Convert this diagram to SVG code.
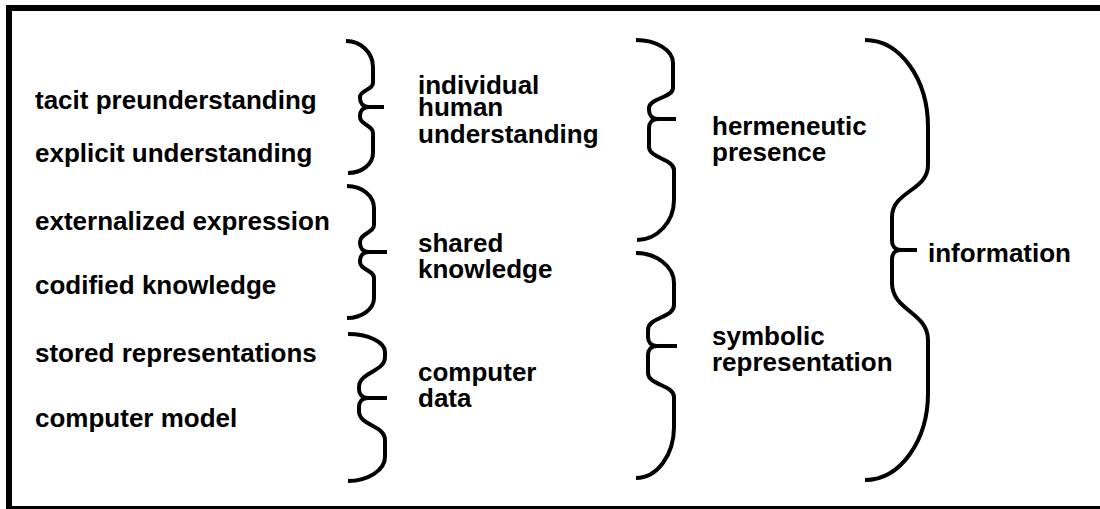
<svg xmlns="http://www.w3.org/2000/svg" width="1100" height="509" viewBox="0 0 1100 509">
<style>
.t{font-family:"Liberation Sans",Arial,sans-serif;font-weight:bold;font-size:26px;fill:#000}
.b{fill:none;stroke:#000;stroke-width:4;stroke-linejoin:round;stroke-linecap:butt}
</style>
<rect width="1100" height="509" fill="#fff"/>
<rect id="frame" x="9" y="8" width="1100" height="501" fill="none" stroke="#000" stroke-width="6"/>
<g id="connectors">
<path class="b" d="M384,107 L369,107 C363,107 360,103 360,98 L360,97 C360,90 373,90 373,83 L373,67 C373,53 361,41 346,41 M384,107 L369,107 C363,107 360,111 360,116 L360,117 C360,125 373,125 373,133 L373,153 C373,164 362,173 348,173"/>
<path class="b" d="M387,252 L369,252 C363,252 360,248 360,243 L360,242 C360,233 374,233 374,225 L374,208 C374,196 362,186 347,186 M387,252 L369,252 C363,252 360,256 360,261 L360,262 C360,270 374,270 374,278 L374,298 C374,309 362,318 347,318"/>
<path class="b" d="M387,398 L368,398 C362,398 359,394 359,389 L359,387 C359,372 385,372 385,357 L385,352 C385,342 368,334 348,334 M387,398 L368,398 C362,398 359,402 359,407 L359,411 C359,426 385,425 385,440 L385,457 C385,470 368,481 348,481"/>
<path class="b" d="M676,119 L658,119 C652,119 649,115 649,110 L649,108 C649,98 673,98 673,88 L673,63 C673,50 656,40 636,40 M676,119 L658,119 C652,119 649,123 649,128 L649,147 C649,158 674,159 674,170 L674,200 C674,222 657,240 637,240"/>
<path class="b" d="M677,346 L657,346 C651,346 648,342 648,337 L648,330 C648,317 674,318 674,305 L674,283 C674,267 657,253 636,253 M677,346 L657,346 C651,346 648,350 648,355 L648,373 C648,385 674,385 674,397 L674,427 C674,455 657,478 636,478"/>
<path class="b" d="M917,250 L901,250 C895,250 892,246 892,241 L892,217 C892,191 928,191 928,165 L928,127 C928,79 900,40 865,40 M917,250 L901,250 C895,250 892,254 892,259 L892,283 C892,311 928,312 928,340 L928,393 C928,441 900,480 865,480"/>
</g>
<g id="n-tacit"><text class="t" x="35" y="109">tacit preunderstanding</text></g>
<g id="n-explicit"><text class="t" x="35" y="162">explicit understanding</text></g>
<g id="n-externalized"><text class="t" x="35" y="230">externalized expression</text></g>
<g id="n-codified"><text class="t" x="35" y="294">codified knowledge</text></g>
<g id="n-stored"><text class="t" x="35" y="362">stored representations</text></g>
<g id="n-model"><text class="t" x="35" y="427">computer model</text></g>
<g id="n-individual"><text class="t" x="418" y="94">individual</text><text class="t" x="418" y="116">human</text><text class="t" x="418" y="143">understanding</text></g>
<g id="n-shared"><text class="t" x="418" y="252">shared</text><text class="t" x="418" y="278">knowledge</text></g>
<g id="n-data"><text class="t" x="418" y="381">computer</text><text class="t" x="418" y="407">data</text></g>
<g id="n-hermeneutic"><text class="t" x="712" y="135">hermeneutic</text><text class="t" x="712" y="161">presence</text></g>
<g id="n-symbolic"><text class="t" x="712" y="345">symbolic</text><text class="t" x="712" y="371">representation</text></g>
<g id="n-information"><text class="t" x="928" y="262">information</text></g>
</svg>
